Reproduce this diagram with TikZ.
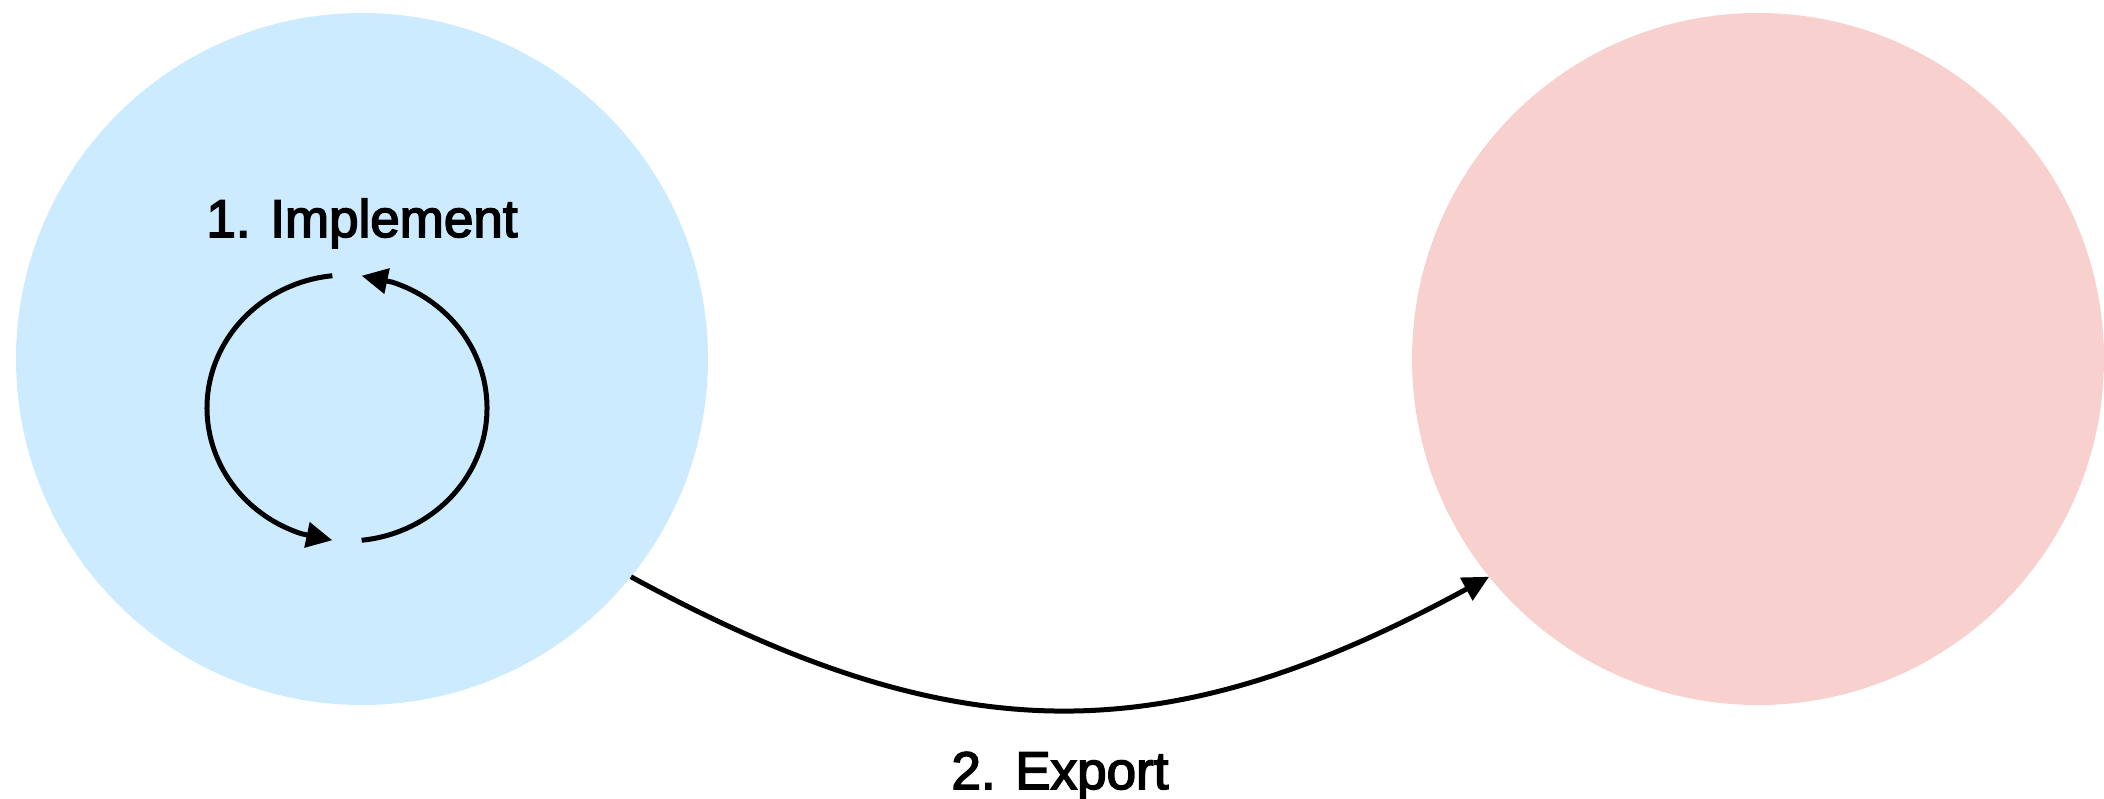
\documentclass[tikz,border=0pt]{standalone}
\usepackage{fontspec}
\setmainfont{Liberation Sans}
\newfontfamily\lblfont[FakeBold=3]{Liberation Sans}
\usetikzlibrary{arrows.meta}
\definecolor{implblue}{RGB}{204,235,255}
\definecolor{exppink}{RGB}{248,209,206}
\tikzset{
  bigcircle/.style={circle, minimum size=692pt, inner sep=0pt, outer sep=0pt, draw=none},
  conn/.style={line width=5pt, -{Triangle[length=26pt,width=25pt]}},
  lbl/.style={font=\lblfont\fontsize{53}{60}\selectfont, anchor=base, inner sep=0pt}
}
\begin{document}
\begin{tikzpicture}[x=1pt,y=1pt]
\useasboundingbox (0,0) rectangle (2104,798);
\node[bigcircle, fill=implblue] (L) at (362,439) {};
\node[bigcircle, fill=exppink] (R) at (1758,439) {};
\node[lbl] (impl) at (362,561) {1. Implement};
\node[lbl] (exp) at (1060,9) {2. Export};
\coordinate (lc) at (347,390);
\coordinate (l1) at ([shift={(96:140pt and 133pt)}]lc);
\coordinate (l2) at ([shift={(264:140pt and 133pt)}]lc);
\coordinate (r1) at ([shift={(-84:140pt and 133pt)}]lc);
\coordinate (r2) at ([shift={(84:140pt and 133pt)}]lc);
\draw[conn] (l1) arc[start angle=96, end angle=251, x radius=140, y radius=133] -- (l2);
\draw[conn] (r1) arc[start angle=-84, end angle=71, x radius=140, y radius=133] -- (r2);
\draw[conn] (L.-39) .. controls +(-28.6:370) and +(208.6:370) .. (R.219.5);
\end{tikzpicture}
\end{document}
